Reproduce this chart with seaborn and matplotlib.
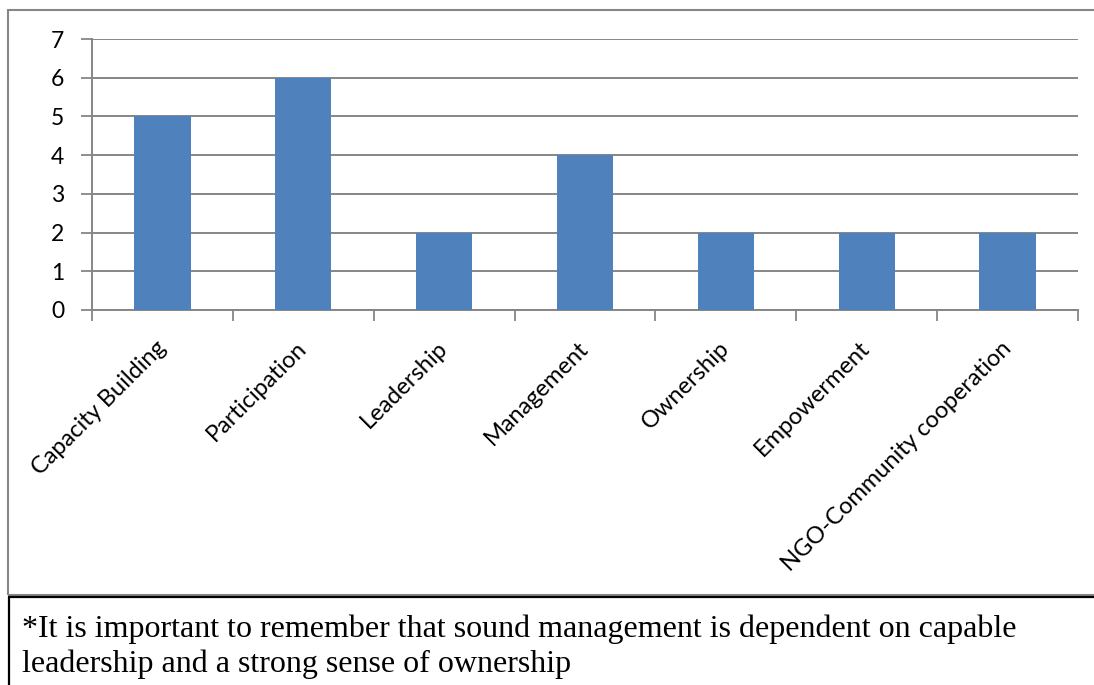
import matplotlib
matplotlib.use("Agg")
import matplotlib.pyplot as plt
from matplotlib.patches import Rectangle
import pandas as pd
import seaborn as sns

categories = [
    "Capacity Building",
    "Participation",
    "Leadership",
    "Management",
    "Ownership",
    "Empowerment",
    "NGO-Community cooperation",
]
counts = [5, 6, 2, 4, 2, 2, 2]
y_ticks = [0, 1, 2, 3, 4, 5, 6, 7]
footnote = (
    "*It is important to remember that sound management is dependent on capable\n"
    "leadership and a strong sense of ownership"
)

sns.set_theme(style="white")
plt.rcParams["font.family"] = ["Lato", "DejaVu Sans"]

W, H = 1094, 685
GRID = "#868686"
BAR = "#4F81BD"

df = pd.DataFrame({"category": categories, "count": counts})

fig = plt.figure(figsize=(W / 100, H / 100), dpi=100)
ax = fig.add_axes([92 / W, 1 - 310 / H, 986 / W, 271 / H])

sns.barplot(data=df, x="category", y="count", color=BAR, width=0.4,
            saturation=1, linewidth=0, ax=ax, zorder=3)

ax.set_xlim(-0.5, len(categories) - 0.5)
ax.set_ylim(0, 7)
ax.set_yticks(y_ticks)
ax.set_yticklabels([str(t) for t in y_ticks], fontsize=16.5, color="black")
ax.set_xticks(range(len(categories)))
ax.set_xticklabels(categories, rotation=45, ha="right", va="center",
                   rotation_mode="anchor", fontsize=17, color="black")
ax.set_xticks([i - 0.5 for i in range(len(categories) + 1)], minor=True)
ax.tick_params(axis="x", which="major", length=0, pad=25)
ax.tick_params(axis="x", which="minor", length=8, width=1.3, color=GRID,
               direction="out", bottom=True)
ax.tick_params(axis="y", length=8, width=1.3, color=GRID, direction="out",
               left=True, pad=12)
ax.set_xlabel("")
ax.set_ylabel("")

ax.grid(axis="y", color=GRID, linewidth=1.4, zorder=0)
ax.set_axisbelow(True)
for side in ["top", "right"]:
    ax.spines[side].set_visible(False)
for side in ["left", "bottom"]:
    ax.spines[side].set_color(GRID)
    ax.spines[side].set_linewidth(1.4)

# chart frame and footnote box
fig.patches.append(Rectangle((8 / W, 1 - 595 / H), 1.2, (595 - 10) / H,
                             transform=fig.transFigure, fill=False,
                             edgecolor=GRID, linewidth=1.5))
fig.patches.append(Rectangle((9 / W, -0.2), 1.2, 0.2 + (H - 597) / H,
                             transform=fig.transFigure, fill=False,
                             edgecolor="black", linewidth=1.6))
fig.text(22 / W, 1 - 614 / H, footnote, ha="left", va="top",
         family=["Liberation Serif", "DejaVu Serif"], fontsize=23,
         linespacing=1.25, color="black")

fig.savefig("out.png", dpi=100)
